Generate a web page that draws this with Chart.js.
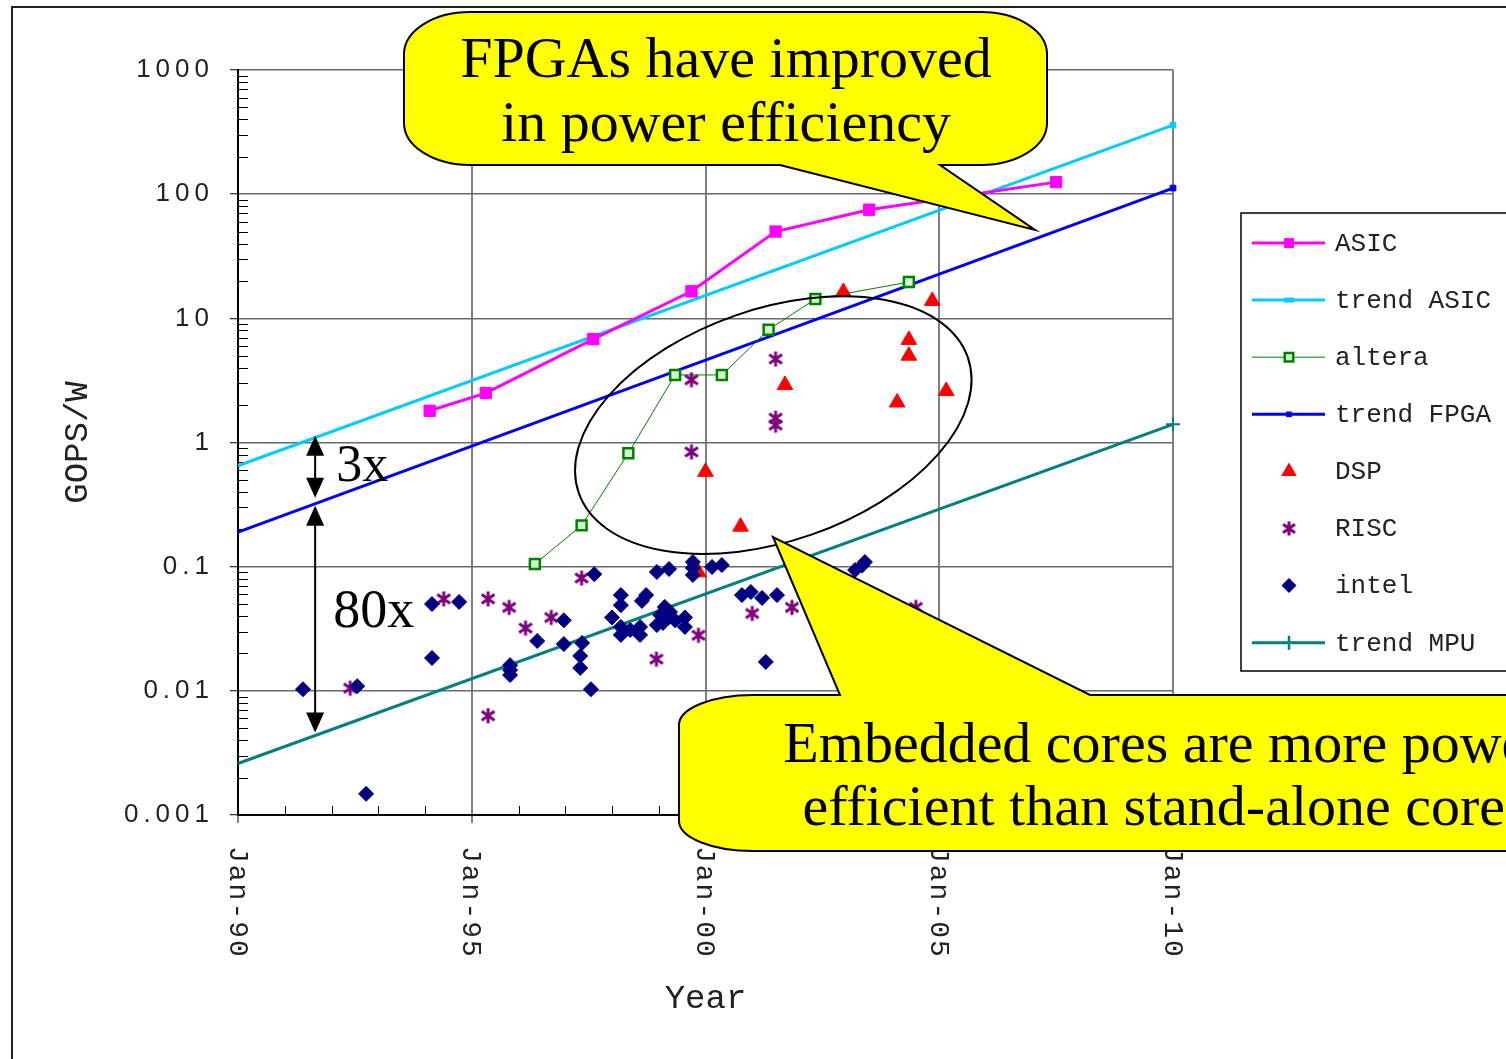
<!DOCTYPE html>
<html><head><meta charset="utf-8">
<script src="https://cdn.jsdelivr.net/npm/chart.js@4.4.1/dist/chart.umd.min.js"></script>
<style>html,body{margin:0;padding:0;background:#fff;overflow:hidden}canvas{display:block}</style>
</head><body>
<canvas id="c" width="1506" height="1059"></canvas>
<script>
// ---------- data ----------
const xTickYears = [1990, 1995, 2000, 2005, 2010];
const xTickLabels = ['Jan-90', 'Jan-95', 'Jan-00', 'Jan-05', 'Jan-10'];
const yTickValues = [0.001, 0.01, 0.1, 1, 10, 100, 1000];
const yTickLabels = ['0.001', '0.01', '0.1', '1', '10', '100', '1000'];

const asicYears  = [1994.1, 1995.3, 1997.6, 1999.7, 2001.5, 2003.5, 2007.5];
const asicValues = [1.8, 2.5, 6.8, 16.5, 50, 75, 125];

const trendYears = [1990, 2010];
const trendAsicValues = [0.65, 360];
const trendFpgaValues = [0.19, 112];
const trendMpuValues  = [0.0026, 1.4];

const alteraYears  = [1996.35, 1997.35, 1998.35, 1999.35, 2000.35, 2001.35, 2002.35, 2004.35];
const alteraValues = [0.105, 0.215, 0.82, 3.5, 3.5, 8.1, 14.3, 19.6];

const dspYears  = [2002.95, 2004.85, 2004.35, 2004.35, 2001.7, 2004.1, 2005.15, 2000.0, 2000.75, 1999.85];
const dspValues = [16.3, 13.8, 6.7, 5.0, 2.9, 2.1, 2.6, 0.58, 0.21, 0.09];

const riscYears  = [1999.7, 2001.5, 2001.5, 2001.5, 1999.7, 1994.4, 1995.35, 1995.8, 1996.15, 1996.7, 1997.35, 1992.4, 1995.35, 1998.95, 1999.85, 2001.0, 2001.85, 2004.5];
const riscValues = [3.2, 4.7, 1.57, 1.38, 0.84, 0.055, 0.055, 0.047, 0.032, 0.039, 0.081, 0.0105, 0.0063, 0.018, 0.028, 0.042, 0.047, 0.047];

const intelYears = [1991.39, 1992.55, 1992.74, 1994.15, 1994.73, 1994.15, 1995.82, 1995.82, 1995.82, 1996.40,
  1996.97, 1996.97, 1997.36, 1997.32, 1997.32, 1997.55, 1997.62, 1998.19, 1998.19, 1998.00,
  1998.19, 1998.19, 1998.39, 1998.60, 1998.60, 1998.64, 1998.73, 1998.96, 1999.22, 1999.03,
  1999.13, 1999.24, 1999.20, 1998.96, 1999.09, 1999.35, 1999.56, 1999.56, 1999.73, 1999.73,
  1999.73, 2000.14, 2000.35, 2000.78, 2000.97, 2001.21, 2001.53, 2001.29, 2003.20, 2003.35, 2003.41];
const intelValues = [0.0103, 0.0109, 0.00148, 0.050, 0.052, 0.0184, 0.0161, 0.0147, 0.0134, 0.0252,
  0.037, 0.0238, 0.0243, 0.0191, 0.0153, 0.0103, 0.087, 0.059, 0.049, 0.039,
  0.0327, 0.0282, 0.0309, 0.0327, 0.0282, 0.053, 0.059, 0.0906, 0.0958, 0.0408,
  0.0474, 0.0432, 0.0386, 0.0339, 0.0352, 0.037, 0.039, 0.0327, 0.109, 0.0976,
  0.0857, 0.0994, 0.103, 0.059, 0.0625, 0.056, 0.059, 0.0171, 0.094, 0.102, 0.109];

const toXY = (xs, ys) => xs.map((x, i) => ({ x: x, y: ys[i] }));

// ---------- marker helpers ----------
function makeAsterisk(color, size, lw) {
  const c = document.createElement('canvas');
  c.width = size; c.height = size;
  const g = c.getContext('2d');
  g.strokeStyle = color; g.lineWidth = lw;
  const m = size / 2, r = size / 2 - 1.5;
  g.beginPath();
  g.moveTo(m, m - r); g.lineTo(m, m + r);
  g.moveTo(m - r * 0.85, m - r * 0.6); g.lineTo(m + r * 0.85, m + r * 0.6);
  g.moveTo(m + r * 0.85, m - r * 0.6); g.lineTo(m - r * 0.85, m + r * 0.6);
  g.stroke();
  return c;
}
const asterisk = makeAsterisk('#800080', 18, 3);
const asteriskSmall = makeAsterisk('#800080', 17, 3);

function drawMarker(ctx, style, x, y, r, fill, stroke, lw) {
  ctx.save();
  ctx.fillStyle = fill; ctx.strokeStyle = stroke; ctx.lineWidth = lw;
  if (style instanceof HTMLCanvasElement) {
    ctx.drawImage(style, x - style.width / 2, y - style.height / 2);
  } else if (style === 'rect') {
    const s = r * Math.SQRT1_2;
    ctx.beginPath(); ctx.rect(x - s, y - s, 2 * s, 2 * s); ctx.fill(); if (lw) ctx.stroke();
  } else if (style === 'dash') {
    ctx.fillRect(x - 5, y - 2.5, 10, 5);
  } else if (style === 'rectRot') {
    ctx.beginPath(); ctx.moveTo(x - r, y); ctx.lineTo(x, y - r); ctx.lineTo(x + r, y); ctx.lineTo(x, y + r);
    ctx.closePath(); ctx.fill();
  } else if (style === 'triangle') {
    ctx.beginPath();
    ctx.moveTo(x, y - r); ctx.lineTo(x + 0.866 * r, y + r / 2); ctx.lineTo(x - 0.866 * r, y + r / 2);
    ctx.closePath(); ctx.fill();
  } else if (style === 'cross') {
    ctx.beginPath(); ctx.moveTo(x - r, y); ctx.lineTo(x + r, y); ctx.moveTo(x, y - r); ctx.lineTo(x, y + r); ctx.stroke();
  }
  ctx.restore();
}

// ---------- callout shape ----------
function bubblePath(ctx, x0, y0, x1, y1, rx, ry, tail) {
  const k = 0.5523;
  ctx.beginPath();
  ctx.moveTo(x0 + rx, y0);
  if (tail.edge === 'top') { ctx.lineTo(tail.a, y0); ctx.lineTo(tail.tx, tail.ty); ctx.lineTo(tail.b, y0); }
  ctx.lineTo(x1 - rx, y0);
  ctx.bezierCurveTo(x1 - rx + rx * k, y0, x1, y0 + ry - ry * k, x1, y0 + ry);
  ctx.lineTo(x1, y1 - ry);
  ctx.bezierCurveTo(x1, y1 - ry + ry * k, x1 - rx + rx * k, y1, x1 - rx, y1);
  if (tail.edge === 'bottom') { ctx.lineTo(tail.b, y1); ctx.lineTo(tail.tx, tail.ty); ctx.lineTo(tail.a, y1); }
  ctx.lineTo(x0 + rx, y1);
  ctx.bezierCurveTo(x0 + rx - rx * k, y1, x0, y1 - ry + ry * k, x0, y1 - ry);
  ctx.lineTo(x0, y0 + ry);
  ctx.bezierCurveTo(x0, y0 + ry - ry * k, x0 + rx - rx * k, y0, x0 + rx, y0);
  ctx.closePath();
}
function drawBubble(ctx, x0, y0, x1, y1, rx, ry, tail) {
  ctx.save();
  bubblePath(ctx, x0, y0, x1, y1, rx, ry, tail);
  ctx.fillStyle = '#FFFF00'; ctx.fill();
  ctx.strokeStyle = '#000'; ctx.lineWidth = 2; ctx.lineJoin = 'miter'; ctx.stroke();
  ctx.restore();
}
function drawDoubleArrow(ctx, x, ya, yb) {
  const hl = 20, hw = 9;
  ctx.save();
  ctx.strokeStyle = '#000'; ctx.fillStyle = '#000'; ctx.lineWidth = 2;
  ctx.beginPath(); ctx.moveTo(x, ya + hl - 2); ctx.lineTo(x, yb - hl + 2); ctx.stroke();
  ctx.beginPath(); ctx.moveTo(x, ya); ctx.lineTo(x + hw, ya + hl); ctx.lineTo(x - hw, ya + hl); ctx.closePath(); ctx.fill();
  ctx.beginPath(); ctx.moveTo(x, yb); ctx.lineTo(x + hw, yb - hl); ctx.lineTo(x - hw, yb - hl); ctx.closePath(); ctx.fill();
  ctx.restore();
}
function trendAt(vals, yr) {
  const t = (yr - trendYears[0]) / (trendYears[1] - trendYears[0]);
  const a = Math.log10(vals[0]), b = Math.log10(vals[1]);
  return Math.pow(10, a + t * (b - a));
}

// ---------- plugin ----------
const deco = {
  id: 'deco',
  afterUpdate(chart) {
    const s = chart.scales.y;
    if (s && !s._lsWrapped) {
      const orig = s.drawLabels;
      s.drawLabels = function (ca) {
        const c = this.ctx; c.save(); c.letterSpacing = '5px'; orig.call(this, ca); c.restore();
      };
      s._lsWrapped = true;
    }
  },
  beforeDraw(chart) {
    const ctx = chart.ctx;
    ctx.save(); ctx.fillStyle = '#fff'; ctx.fillRect(0, 0, chart.width, chart.height); ctx.restore();
  },
  beforeDatasetsDraw(chart) {
    const ctx = chart.ctx, ys = chart.scales.y, xs = chart.scales.x, ca = chart.chartArea;
    ctx.save(); ctx.strokeStyle = '#000'; ctx.lineWidth = 1;
    ctx.beginPath();
    for (let e = -3; e < 3; e++) for (let k = 2; k <= 9; k++) {
      const py = Math.round(ys.getPixelForValue(k * Math.pow(10, e))) + 0.5;
      ctx.moveTo(ca.left, py); ctx.lineTo(ca.left + 10, py);
    }
    for (let yr = 1991; yr < 2010; yr++) {
      if (yr % 5 === 0) continue;
      const px = Math.round(xs.getPixelForValue(yr)) + 0.5;
      ctx.moveTo(px, ca.bottom); ctx.lineTo(px, ca.bottom - 9);
    }
    ctx.stroke(); ctx.restore();
  },
  afterDraw(chart) {
    const ctx = chart.ctx, ys = chart.scales.y, xs = chart.scales.x, ca = chart.chartArea;

    // ellipse around FPGA / DSP cluster
    ctx.save();
    ctx.strokeStyle = '#000'; ctx.lineWidth = 2;
    ctx.beginPath();
    ctx.ellipse(xs.getPixelForValue(2001.45), ys.getPixelForValue(1.38), 206, 116, -19.2 * Math.PI / 180, 0, 2 * Math.PI);
    ctx.stroke();
    ctx.restore();

    // gap arrows
    const ax = xs.getPixelForValue(1991.65);
    const yA = ys.getPixelForValue(trendAt(trendAsicValues, 1991.65));
    const yF = ys.getPixelForValue(trendAt(trendFpgaValues, 1991.65));
    const yM = ys.getPixelForValue(trendAt(trendMpuValues, 1991.65));
    drawDoubleArrow(ctx, ax, yA - 2, yF - 6);
    drawDoubleArrow(ctx, ax, yF + 2, yM - 3);
    ctx.save();
    ctx.fillStyle = '#000'; ctx.textBaseline = 'alphabetic'; ctx.textAlign = 'left';
    ctx.font = '52px "Liberation Serif"';
    ctx.fillText('3x', ax + 21, 481);
    ctx.font = '54px "Liberation Serif"';
    ctx.fillText('80x', ax + 18, 627);
    ctx.restore();

    // x tick labels (rotated, reading downward)
    ctx.save();
    ctx.font = '28px "Liberation Mono"'; ctx.fillStyle = '#222';
    ctx.letterSpacing = '2px';
    ctx.textAlign = 'left'; ctx.textBaseline = 'middle';
    xs.ticks.forEach((t, i) => {
      const px = xs.getPixelForValue(t.value);
      ctx.save(); ctx.translate(px - 1, ca.bottom + 31); ctx.rotate(Math.PI / 2);
      ctx.fillText(xTickLabels[i], 0, 0); ctx.restore();
    });
    ctx.restore();

    // legend
    const lx = 1241, ly = 213, lh = 458;
    ctx.save();
    ctx.fillStyle = '#fff'; ctx.fillRect(lx, ly, 300, lh);
    ctx.strokeStyle = '#000'; ctx.lineWidth = 1.5;
    ctx.beginPath(); ctx.moveTo(lx + 300, ly); ctx.lineTo(lx, ly); ctx.lineTo(lx, ly + lh); ctx.lineTo(lx + 300, ly + lh); ctx.stroke();
    ctx.font = '26px "Liberation Mono"'; ctx.textBaseline = 'middle'; ctx.textAlign = 'left';
    chart.data.datasets.forEach((ds, i) => {
      const y = ly + 30 + i * 57.1;
      if (ds.showLine) {
        ctx.save(); ctx.strokeStyle = ds.borderColor; ctx.lineWidth = ds.borderWidth;
        ctx.beginPath(); ctx.moveTo(1252, y); ctx.lineTo(1325, y); ctx.stroke(); ctx.restore();
      }
      const lm = ds.legendMarker;
      drawMarker(ctx, lm.style, 1289, y, lm.r, lm.fill, lm.stroke, lm.lw);
      ctx.fillStyle = '#222';
      ctx.fillText(ds.label, 1335, y + 1);
    });
    ctx.restore();

    // callouts
    drawBubble(ctx, 404, 12, 1047, 165, 66, 42, { edge: 'bottom', a: 780, b: 940, tx: 1035, ty: 230 });
    drawBubble(ctx, 679, 695, 1760, 851, 74, 30, { edge: 'top', a: 840, b: 1090, tx: 773, ty: 537 });
    ctx.save();
    ctx.fillStyle = '#000'; ctx.font = '58px "Liberation Serif"'; ctx.textAlign = 'center'; ctx.textBaseline = 'alphabetic';
    ctx.fillText('FPGAs have improved', 726, 77);
    ctx.fillText('in power efficiency', 726, 141);
    ctx.fillText('Embedded cores are more power', 1165, 762);
    ctx.fillText('efficient than stand-alone cores', 1165, 825);
    ctx.restore();

    // outer frame
    ctx.save();
    ctx.strokeStyle = '#222'; ctx.lineWidth = 2;
    ctx.beginPath(); ctx.moveTo(12, chart.height); ctx.lineTo(12, 7); ctx.lineTo(chart.width, 7); ctx.stroke();
    ctx.restore();
  }
};

// ---------- chart ----------
const datasets = [
  { label: 'ASIC', data: toXY(asicYears, asicValues), showLine: true, borderColor: '#FF00FF', borderWidth: 3,
    pointStyle: 'rect', pointRadius: 8, pointBackgroundColor: '#FF00FF', pointBorderColor: '#FF00FF', pointBorderWidth: 1, order: 4,
    legendMarker: { style: 'rect', r: 7, fill: '#FF00FF', stroke: '#FF00FF', lw: 0 } },
  { label: 'trend ASIC', data: toXY(trendYears, trendAsicValues), showLine: true, borderColor: '#00CCFF', borderWidth: 3,
    pointStyle: 'rect', pointRadius: [0, 4], pointBackgroundColor: '#00CCFF', pointBorderColor: '#00CCFF', pointBorderWidth: 1, order: 6, clip: false,
    legendMarker: { style: 'dash', r: 4, fill: '#00CCFF', stroke: '#00CCFF', lw: 0 } },
  { label: 'altera', data: toXY(alteraYears, alteraValues), showLine: true, borderColor: '#008000', borderWidth: 1,
    pointStyle: 'rect', pointRadius: 7, pointBackgroundColor: '#CCFFCC', pointBorderColor: '#008000', pointBorderWidth: 2.5, order: 3,
    legendMarker: { style: 'rect', r: 6, fill: '#CCFFCC', stroke: '#008000', lw: 2.5 } },
  { label: 'trend FPGA', data: toXY(trendYears, trendFpgaValues), showLine: true, borderColor: '#0000FF', borderWidth: 3,
    pointStyle: 'rect', pointRadius: [0, 4], pointBackgroundColor: '#0000FF', pointBorderColor: '#0000FF', pointBorderWidth: 1, order: 6, clip: false,
    legendMarker: { style: 'rect', r: 4, fill: '#0000FF', stroke: '#0000FF', lw: 0 } },
  { label: 'DSP', data: toXY(dspYears, dspValues), showLine: false,
    pointStyle: 'triangle', pointRadius: 9, pointBackgroundColor: '#FF0000', pointBorderColor: '#FF0000', pointBorderWidth: 1, order: 2,
    legendMarker: { style: 'triangle', r: 9, fill: '#FF0000', stroke: '#FF0000', lw: 0 } },
  { label: 'RISC', data: toXY(riscYears, riscValues), showLine: false,
    pointStyle: asterisk, pointRadius: 9, order: 1,
    legendMarker: { style: asteriskSmall, r: 8, fill: '#800080', stroke: '#800080', lw: 0 } },
  { label: 'intel', data: toXY(intelYears, intelValues), showLine: false,
    pointStyle: 'rectRot', pointRadius: 7.5, pointBackgroundColor: '#000080', pointBorderColor: '#000080', pointBorderWidth: 1, order: 0,
    legendMarker: { style: 'rectRot', r: 7.5, fill: '#000080', stroke: '#000080', lw: 0 } },
  { label: 'trend MPU', data: toXY(trendYears, trendMpuValues), showLine: true, borderColor: '#008080', borderWidth: 3,
    pointStyle: 'cross', pointRadius: [0, 7], pointBackgroundColor: '#008080', pointBorderColor: '#008080', pointBorderWidth: 2, order: 6, clip: false,
    legendMarker: { style: 'cross', r: 7, fill: '#008080', stroke: '#008080', lw: 2.5 } }
];

Chart.defaults.font.family = '"Liberation Mono"';
new Chart(document.getElementById('c'), {
  type: 'scatter',
  data: { datasets: datasets },
  options: {
    responsive: false,
    animation: false,
    devicePixelRatio: 1,
    events: [],
    layout: { padding: { left: 54, top: 70, right: 333, bottom: 36 } },
    elements: { line: { tension: 0 } },
    plugins: { legend: { display: false }, tooltip: { enabled: false } },
    scales: {
      x: {
        type: 'linear', min: 1990, max: 2010,
        afterBuildTicks: s => { s.ticks = xTickYears.map(v => ({ value: v })); },
        afterFit: s => { s.height = 208; },
        ticks: { display: false },
        grid: { color: '#808080', lineWidth: 2, drawTicks: true, tickLength: 8, tickColor: '#000', tickWidth: 1 },
        border: { color: '#000', width: 2 },
        title: { display: true, text: 'Year', color: '#222', font: { family: '"Liberation Mono"', size: 34 }, padding: { top: 4, bottom: 4 } }
      },
      y: {
        type: 'logarithmic', min: 0.001, max: 1000,
        afterBuildTicks: s => { s.ticks = yTickValues.map(v => ({ value: v })); },
        afterFit: s => { s.width = 184; },
        ticks: { autoSkip: false, padding: 16, color: '#222', font: { family: '"Liberation Sans"', size: 26 },
                 callback: (v, i) => yTickLabels[i] },
        grid: { color: '#6a6a6a', lineWidth: 1.5, drawTicks: true, tickLength: 8, tickColor: '#000', tickWidth: 1 },
        border: { color: '#000', width: 2 },
        title: { display: true, text: 'GOPS/W', color: '#222', font: { family: '"Liberation Mono"', size: 34 }, padding: { top: 4, bottom: 4 } }
      }
    }
  },
  plugins: [deco]
});
</script>
</body></html>
